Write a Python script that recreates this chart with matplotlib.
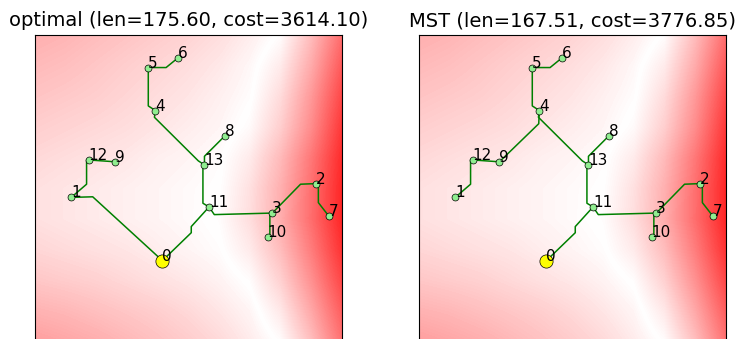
import numpy as np
import matplotlib
matplotlib.use("Agg")
import matplotlib.pyplot as plt
from matplotlib.colors import LinearSegmentedColormap

# node positions, 0-100 scale across the map, y counted from the top
node_x = [41.5, 11.8, 91.5, 77.3, 39.2, 36.9, 46.5, 95.8, 61.8, 26.2, 75.8, 56.7, 17.5, 55.2]
node_y = [73.6, 53.0, 48.5, 58.1, 24.7, 10.7, 7.6, 59.2, 33.0, 41.4, 66.0, 56.1, 40.8, 42.4]

# edges as (from, to, bend points along the route)
shared_edges = [
    (5, 6, [(42.7, 10.7)]),
    (5, 4, [(36.9, 23.2)]),
    (4, 13, [(38.9, 26.9), (53.2, 41.1)]),
    (13, 8, [(55.2, 39.6)]),
    (13, 11, [(54.7, 42.4), (54.7, 54.9)]),
    (11, 0, [(50.9, 62.5), (50.9, 64.5)]),
    (1, 12, [(16.8, 48.7), (16.8, 40.8)]),
    (12, 9, []),
    (11, 3, [(58.4, 58.6)]),
    (3, 10, [(76.5, 58.6), (76.5, 66.0)]),
    (3, 2, [(86.5, 48.7)]),
    (2, 7, [(92.3, 48.7), (92.3, 54.7)]),
]
optimal_extra = [(0, 1, [(18.8, 52.8)])]
mst_extra = [(4, 9, [(39.0, 29.0)])]

titles = ["optimal", "MST"]
tree_len = [175.60, 167.51]
tree_cost = [3614.10, 3776.85]

# cost field (signed: left of the white band < 0)
cost_grid = np.array([
    [-0.31, -0.29, -0.26, -0.23, -0.20, -0.17, -0.13, -0.07, 0.01, 0.26, 0.57],
    [-0.27, -0.25, -0.22, -0.19, -0.16, -0.13, -0.09, -0.03, 0.08, 0.33, 0.65],
    [-0.23, -0.21, -0.19, -0.16, -0.13, -0.10, -0.06, -0.01, 0.14, 0.40, 0.72],
    [-0.19, -0.17, -0.15, -0.13, -0.10, -0.07, -0.04, 0.02, 0.19, 0.45, 0.78],
    [-0.15, -0.13, -0.11, -0.09, -0.06, -0.04, -0.01, 0.08, 0.27, 0.53, 0.83],
    [-0.12, -0.10, -0.08, -0.06, -0.04, -0.02, 0.00, 0.12, 0.31, 0.56, 0.85],
    [-0.12, -0.10, -0.08, -0.06, -0.04, -0.02, 0.01, 0.13, 0.32, 0.57, 0.85],
    [-0.16, -0.14, -0.12, -0.10, -0.07, -0.04, -0.01, 0.08, 0.26, 0.51, 0.80],
    [-0.22, -0.20, -0.18, -0.15, -0.12, -0.09, -0.05, 0.01, 0.18, 0.43, 0.72],
    [-0.30, -0.28, -0.25, -0.22, -0.19, -0.15, -0.10, -0.04, 0.09, 0.34, 0.63],
    [-0.38, -0.35, -0.32, -0.28, -0.24, -0.20, -0.15, -0.08, 0.01, 0.25, 0.55],
])

cmap = LinearSegmentedColormap.from_list("redwhitered", ["red", "white", "red"])

fig = plt.figure(figsize=(7.35, 3.39), dpi=100)
ax_left = [35 / 735, 419 / 735]
ax_w = 307 / 735
ax_h = 307 / 339
ax_bottom = (339 - 34.7 - 307) / 339

for k in range(2):
    ax = fig.add_axes([ax_left[k], ax_bottom, ax_w, ax_h])
    ax.imshow(cost_grid, cmap=cmap, vmin=-1, vmax=1, extent=[-5, 105, 105, -5],
              interpolation="bilinear", interpolation_stage="data", aspect="auto", zorder=0)

    edges = shared_edges + (optimal_extra if k == 0 else mst_extra)
    for a, b, bends in edges:
        xs = [node_x[a]] + [p[0] for p in bends] + [node_x[b]]
        ys = [node_y[a]] + [p[1] for p in bends] + [node_y[b]]
        ax.plot(xs, ys, color="green", lw=1.1, zorder=2)

    ax.plot(node_x[1:], node_y[1:], "o", color="lightgreen", mec="black", mew=0.5, ms=5, zorder=3)
    ax.plot(node_x[0], node_y[0], "o", color="yellow", mec="black", mew=0.5, ms=9.5, zorder=3)
    for i in range(len(node_x)):
        ax.text(node_x[i], node_y[i], str(i), fontsize=11, zorder=4)

    ax.set_xlim(0, 100)
    ax.set_ylim(100, 0)
    ax.set_xticks([])
    ax.set_yticks([])
    ax.set_title(f"{titles[k]} (len={tree_len[k]:.2f}, cost={tree_cost[k]:.2f})", fontsize=14)

fig.savefig("out.png", dpi=100)
